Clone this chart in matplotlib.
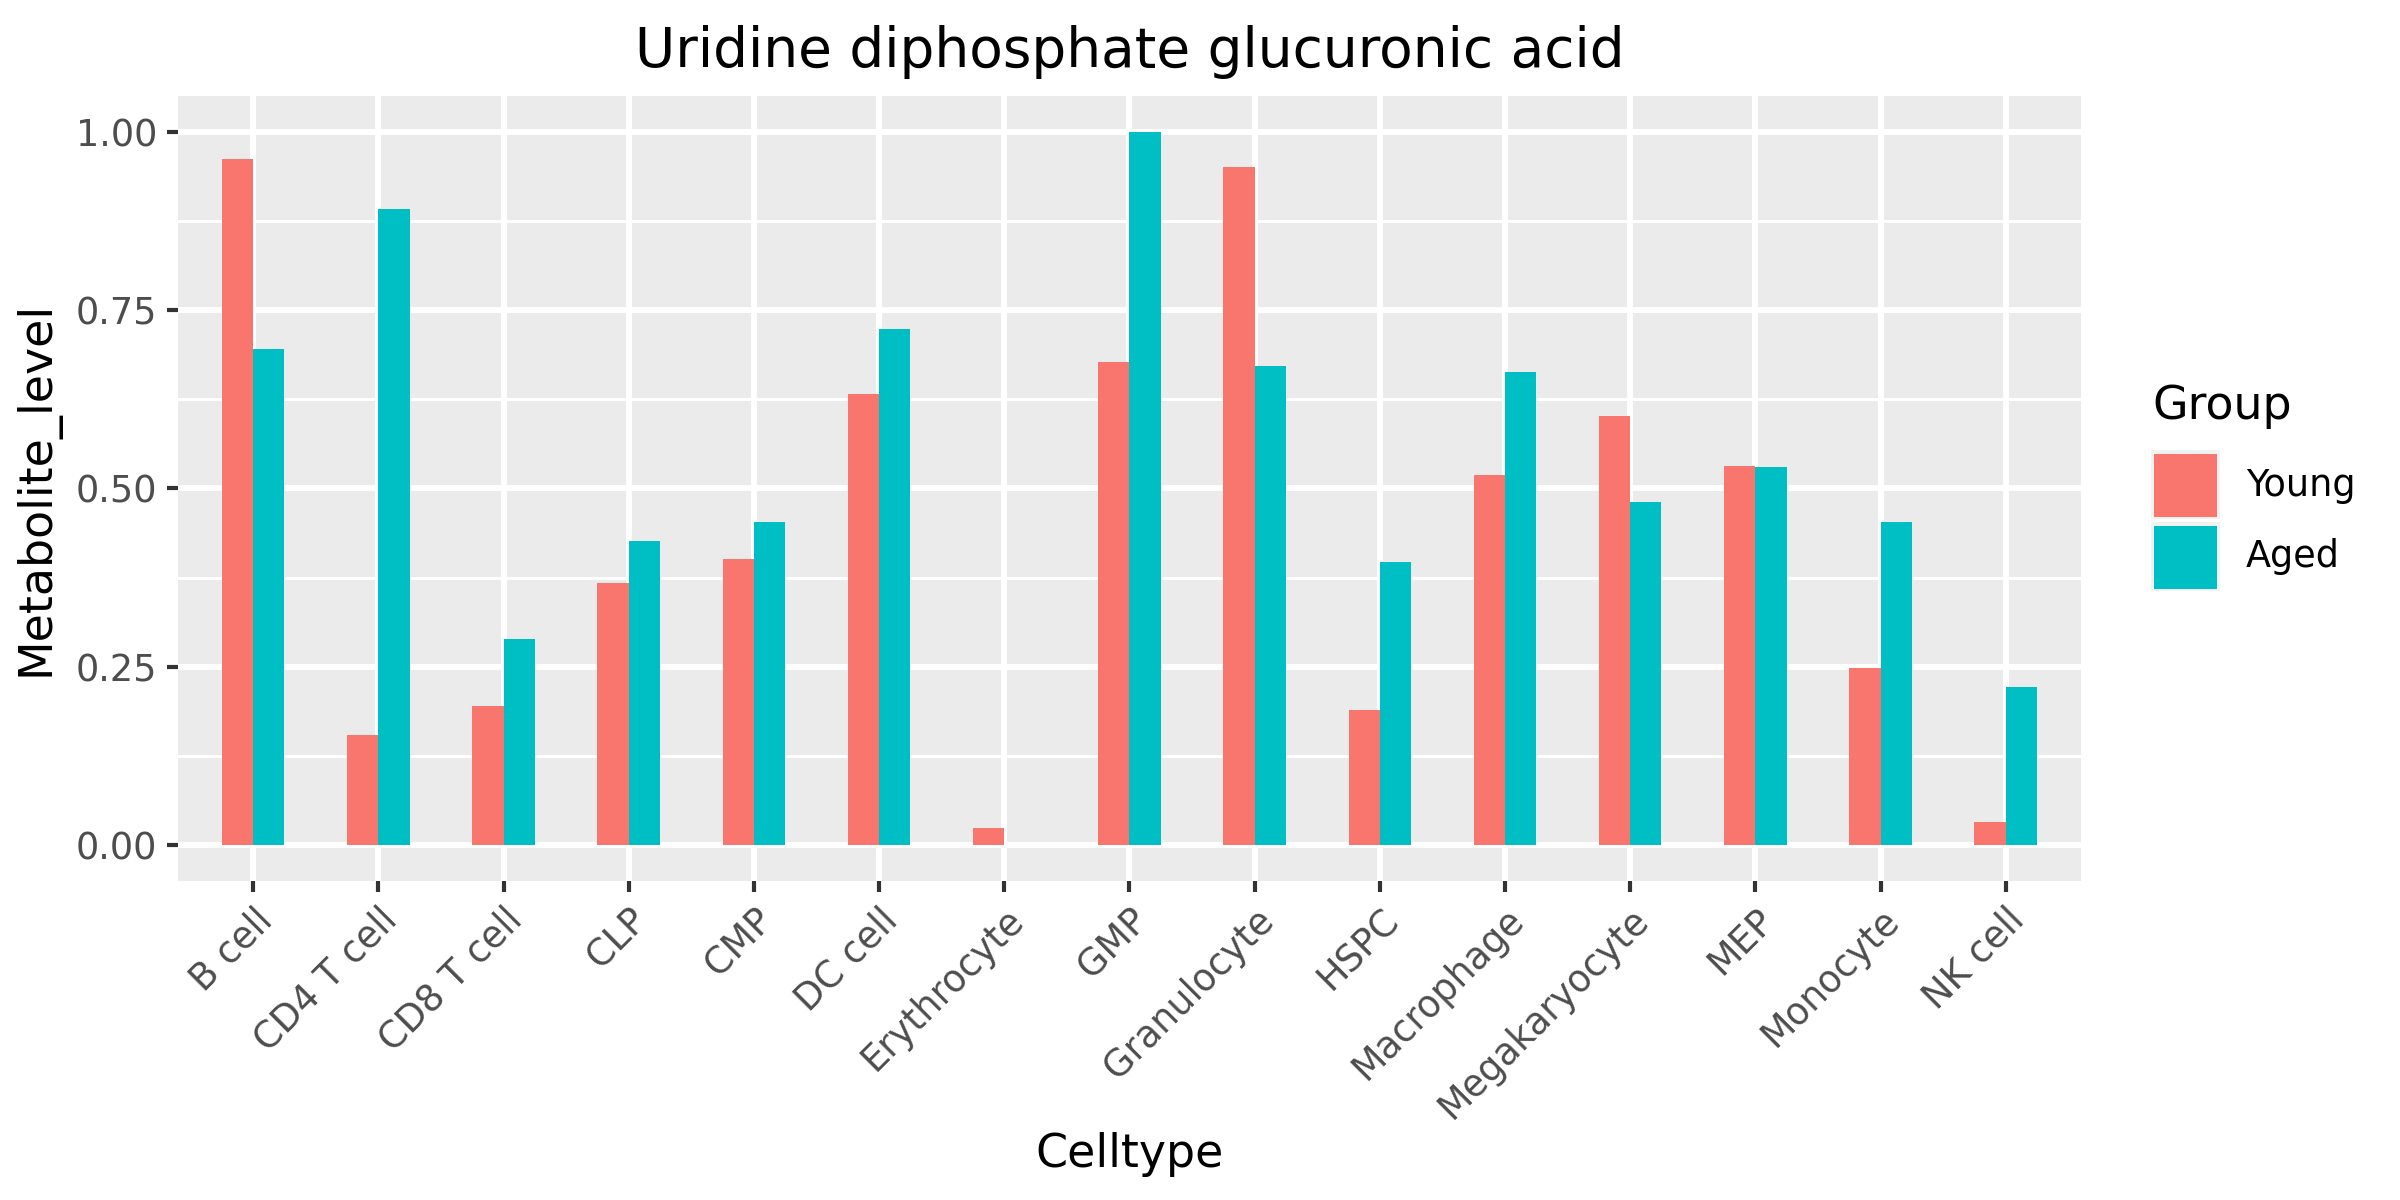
import numpy as np
import matplotlib
matplotlib.use('Agg')
from matplotlib import pyplot as plt
from matplotlib.patches import Rectangle

celltypes = ['B cell', 'CD4 T cell', 'CD8 T cell', 'CLP', 'CMP', 'DC cell',
             'Erythrocyte', 'GMP', 'Granulocyte', 'HSPC', 'Macrophage',
             'Megakaryocyte', 'MEP', 'Monocyte', 'NK cell']
young = [0.961, 0.155, 0.195, 0.368, 0.401, 0.633, 0.024, 0.677, 0.950,
         0.190, 0.519, 0.601, 0.532, 0.248, 0.033]
aged = [0.696, 0.892, 0.289, 0.426, 0.453, 0.724, 0.0, 1.0, 0.672,
        0.397, 0.663, 0.481, 0.530, 0.453, 0.222]
groups = ['Young', 'Aged']
colors = {'Young': '#F8766D', 'Aged': '#00BFC4'}

plt.rcParams['font.family'] = ['DejaVu Sans']

W, H = 2400, 1200
fig = plt.figure(figsize=(8, 4), dpi=300)
ax = fig.add_axes([0.0742, 0.266, 0.867 - 0.0742, 0.920 - 0.266])
ax.set_facecolor('#EBEBEB')

x = np.arange(1, len(celltypes) + 1)
w = 0.25
ax.bar(x - w/2, young, width=w, color=colors['Young'], linewidth=0, zorder=3)
ax.bar(x + w/2, aged, width=w, color=colors['Aged'], linewidth=0, zorder=3)

ax.set_xlim(0.4, len(celltypes) + 0.6)
ax.set_ylim(-0.05, 1.05)

# grid like ggplot theme_gray
for yv in [0.125, 0.375, 0.625, 0.875]:
    ax.axhline(yv, color='white', linewidth=0.71, zorder=1)
for yv in [0, 0.25, 0.5, 0.75, 1.0]:
    ax.axhline(yv, color='white', linewidth=1.42, zorder=1)
for xv in x:
    ax.axvline(xv, color='white', linewidth=1.42, zorder=1)

for s in ax.spines.values():
    s.set_visible(False)

ax.set_yticks([0, 0.25, 0.5, 0.75, 1.0])
ax.set_yticklabels(['0.00', '0.25', '0.50', '0.75', '1.00'])
ax.set_xticks(x)
ax.set_xticklabels(celltypes, rotation=45, ha='right', rotation_mode='anchor')
ax.tick_params(axis='both', colors='#333333', width=1.0, length=2.75,
               labelsize=8.8, labelcolor='#4D4D4D', pad=2.2)

ax.set_xlabel('Celltype', fontsize=11, labelpad=1.5)
ax.set_ylabel('Metabolite_level', fontsize=11, labelpad=4)
ax.set_title('Uridine diphosphate glucuronic acid', fontsize=13.2, pad=7)

# legend drawn by hand, ggplot style
fig.text(2152 / W, 1 - 407 / H, 'Group', fontsize=11, ha='left', va='center')
key_top = 452
for g in groups:
    fig.add_artist(Rectangle((2151 / W, 1 - (key_top + 67) / H), 69 / W, 69 / H,
                             transform=fig.transFigure, facecolor='#F2F2F2',
                             edgecolor='none'))
    fig.add_artist(Rectangle((2154 / W, 1 - (key_top + 65) / H), 63 / W, 63 / H,
                             transform=fig.transFigure, facecolor=colors[g],
                             edgecolor='none'))
    fig.text(2246 / W, 1 - (key_top + 33) / H, g, fontsize=8.8,
             ha='left', va='center')
    key_top += 72

fig.savefig('out.png', dpi=300)
